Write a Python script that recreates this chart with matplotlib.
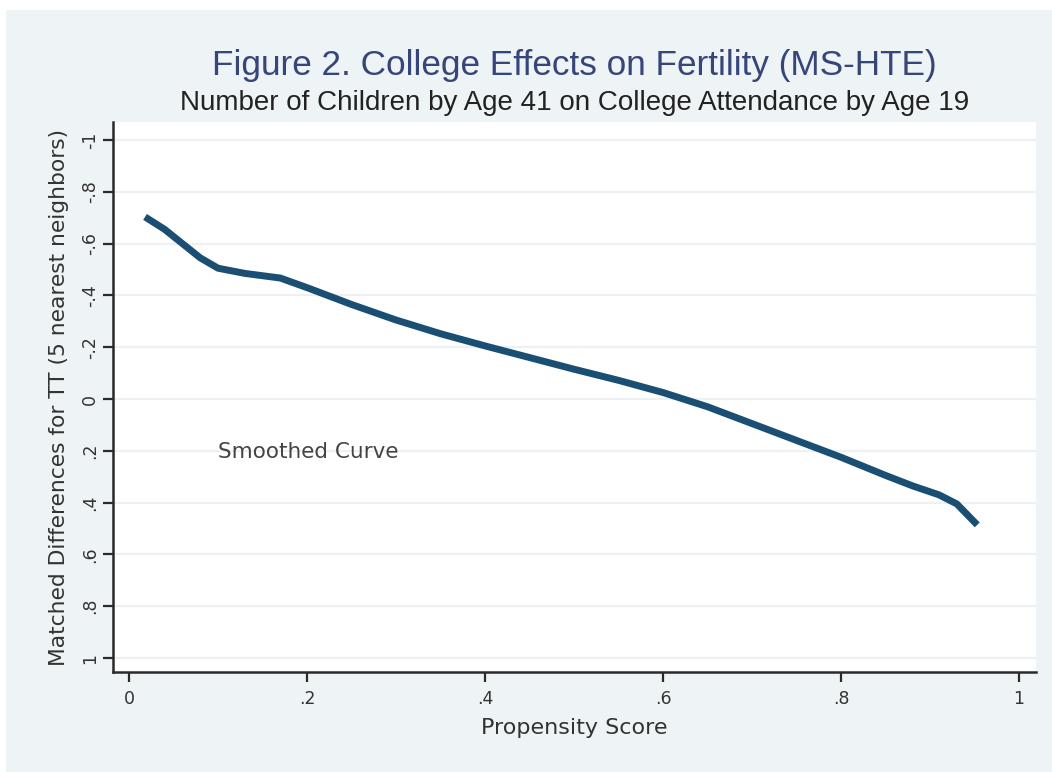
import matplotlib
matplotlib.use("Agg")
import matplotlib.pyplot as plt
from matplotlib.patches import Rectangle

# Smoothed matched differences by propensity score
propensity = [0.018, 0.04, 0.06, 0.08, 0.10, 0.13, 0.17, 0.20, 0.25, 0.30,
              0.35, 0.40, 0.45, 0.50, 0.55, 0.60, 0.65, 0.70, 0.75, 0.80,
              0.85, 0.88, 0.91, 0.93, 0.953]
matched_diff = [-0.703, -0.655, -0.600, -0.545, -0.505, -0.485, -0.467, -0.430,
                -0.365, -0.305, -0.252, -0.205, -0.160, -0.115, -0.072, -0.025,
                0.030, 0.095, 0.160, 0.225, 0.295, 0.335, 0.370, 0.405, 0.486]

x_ticks = [0, 0.2, 0.4, 0.6, 0.8, 1.0]
x_tick_labels = ["0", ".2", ".4", ".6", ".8", "1"]
y_ticks = [-1, -0.8, -0.6, -0.4, -0.2, 0, 0.2, 0.4, 0.6, 0.8, 1]
y_tick_labels = ["-1", "-.8", "-.6", "-.4", "-.2", "0", ".2", ".4", ".6", ".8", "1"]

title = "Figure 2. College Effects on Fertility (MS-HTE)"
subtitle = "Number of Children by Age 41 on College Attendance by Age 19"

plt.rcParams["font.family"] = ["Liberation Sans", "DejaVu Sans"]
axis_font = "DejaVu Sans"

W, H = 1052, 772
fig = plt.figure(figsize=(W / 100, H / 100), dpi=100)
fig.patch.set_facecolor("white")
# graph region background, drawn beneath the axes
fig.add_artist(Rectangle((6 / W, 0), 1 - 6 / W, 1 - 10 / H,
                         transform=fig.transFigure, facecolor="#eef3f6",
                         edgecolor="none", zorder=-5))

left, right, top, bottom = 113, 1036, 122, 672
ax = fig.add_axes([left / W, 1 - bottom / H, (right - left) / W, (bottom - top) / H])
ax.set_facecolor("white")

ax.plot(propensity, matched_diff, color="#1a4e73", linewidth=5,
        solid_capstyle="butt", solid_joinstyle="round", zorder=3)

ax.set_xlim(-0.018, 1.019)
ax.set_ylim(1.054, -1.0695)

ax.set_xticks(x_ticks)
ax.set_xticklabels(x_tick_labels, family=axis_font)
ax.set_yticks(y_ticks)
ax.set_yticklabels(y_tick_labels, rotation=90, va="center", family=axis_font)

for y in y_ticks:
    ax.axhline(y, color="#edf1f4", linewidth=1.6, zorder=1)

for s in ["top", "right"]:
    ax.spines[s].set_visible(False)
for s in ["left", "bottom"]:
    ax.spines[s].set_color("#2a2a2a")
    ax.spines[s].set_linewidth(1.8)

ax.tick_params(axis="both", direction="out", length=7, width=1.6,
               color="#2a2a2a", labelcolor="#333333", labelsize=12.5)
ax.tick_params(axis="x", pad=6)
ax.tick_params(axis="y", pad=3)

ax.set_xlabel("Propensity Score", fontsize=16, color="#333333", labelpad=7,
              family=axis_font)
ax.set_ylabel("Matched Differences for TT (5 nearest neighbors)", fontsize=15.7,
              color="#333333", labelpad=9, family=axis_font)

ax.text(0.1, 0.205, "Smoothed Curve", fontsize=15.5, color="#444444",
        ha="left", va="center", family=axis_font)

cx = (left + right) / 2 / W
fig.text(cx, 1 - 65 / H, title, ha="center", va="center", fontsize=25.3,
         color="#37467a")
fig.text(cx, 1 - 103 / H, subtitle, ha="center", va="center", fontsize=20,
         color="#222222")

fig.savefig("out.png", dpi=100)
